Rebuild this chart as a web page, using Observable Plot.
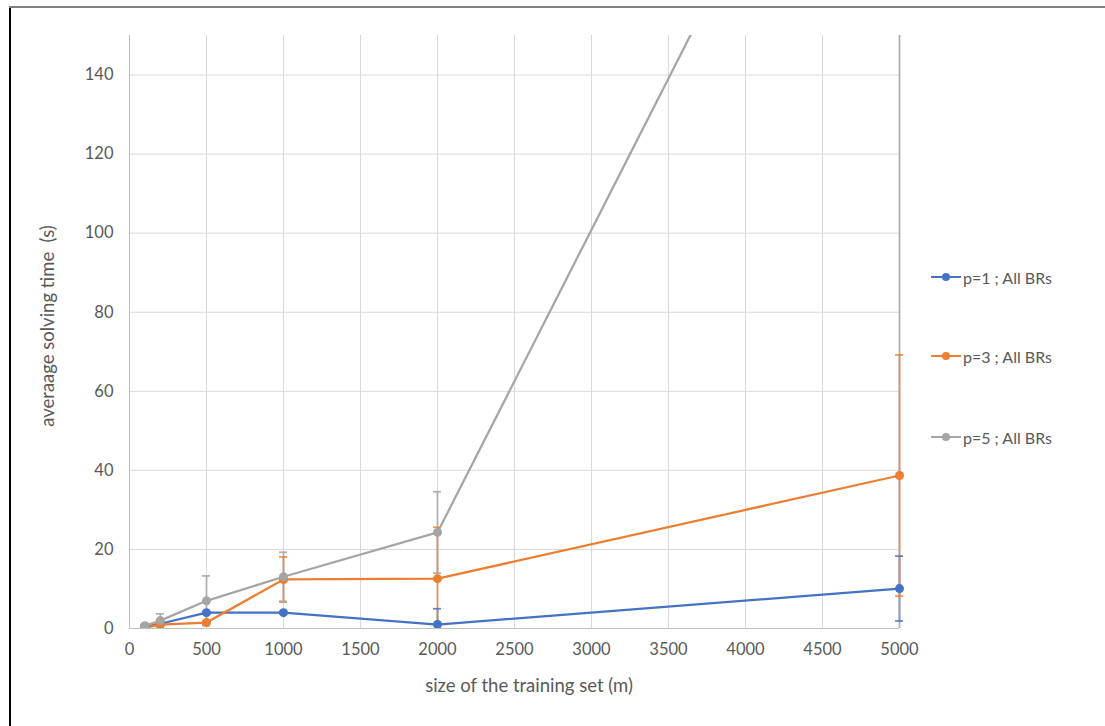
<!DOCTYPE html>
<html>
<head>
<meta charset="utf-8">
<script src="https://cdn.jsdelivr.net/npm/d3@7"></script>
<script src="https://cdn.jsdelivr.net/npm/@observablehq/plot@0.6"></script>
<style>
  html, body { margin: 0; padding: 0; background: #fff; }
  #wrap { position: relative; width: 1105px; height: 726px; overflow: hidden; }
  #frameL { position: absolute; left: 9px; top: 6px; width: 2px; height: 730px; background: #000; }
  #frameT { position: absolute; left: 9px; top: 6px; width: 1100px; height: 2px; background: #7f7f7f; }
  #legend { position: absolute; left: 931px; top: 0; font-family: Lato, sans-serif; font-size: 16px; color: #595959; }
  .item { position: absolute; left: 0; white-space: nowrap; display: flex; align-items: center; height: 20px; }
  .sw { position: relative; width: 30px; height: 20px; margin-right: 2px; }
  .sw .ln { position: absolute; left: 0; top: 9px; width: 30px; height: 2.25px; }
  .sw .dt { position: absolute; left: 11px; top: 6px; width: 8px; height: 8px; border-radius: 50%; }
</style>
</head>
<body>
<div id="wrap">
  <div id="chart"></div>
  <div id="frameL"></div>
  <div id="frameT"></div>
  <div id="legend"></div>
</div>
<script>
const sizes = [100, 200, 500, 1000, 2000, 5000];
const seriesNames = ["p=1 ; All BRs", "p=3 ; All BRs", "p=5 ; All BRs"];
const seriesColors = ["#4472C4", "#ED7D31", "#A5A5A5"];
const p1 = [0.5, 1.2, 4.0, 4.0, 1.0, 10.1];
const p3 = [0.2, 1.0, 1.5, 12.4, 12.6, 38.7];
const p5 = [0.7, 2.0, 7.0, 13.1, 24.3, 254];
const err1 = [0.3, 0.4, 0.3, 0.3, 4.0, 8.2];
const err3 = [0.2, 0.4, 0.4, 5.7, 13.0, 30.5];
const err5 = [0.3, 1.7, 6.3, 6.2, 10.3, 256];
const xTicks = [0, 500, 1000, 1500, 2000, 2500, 3000, 3500, 4000, 4500, 5000];
const yTicks = [0, 20, 40, 60, 80, 100, 120, 140];
const xLabel = "size of the training set (m)";
const yLabel = "averaage solving time  (s)";

const values = [p1, p3, p5];
const errs = [err1, err3, err5];
const rows = [];
seriesNames.forEach((s, k) => {
  sizes.forEach((m, i) => {
    rows.push({series: s, m, t: values[k][i], lo: values[k][i] - errs[k][i], hi: values[k][i] + errs[k][i]});
  });
});

const color = {domain: seriesNames, range: seriesColors};
const font = "Lato, sans-serif";
const ebar = {stroke: "series", strokeWidth: 1.75, strokeOpacity: 0.85, clip: true};

// frame extends a few px past x=5000 so the error bars there are not half-clipped
const W = 1105, ML = 129, MR = 199, PAD = 7;

const chart = Plot.plot({
  width: W,
  height: 726,
  marginLeft: ML,
  marginRight: MR,
  marginTop: 35,
  marginBottom: 98,
  style: {fontFamily: font, fontSize: "16.5px", color: "#595959", background: "transparent"},
  x: {domain: [0, 5000], range: [ML, W - MR - PAD]},
  y: {domain: [0, 150]},
  color,
  marks: [
    Plot.gridX(xTicks, {stroke: "#d9d9d9", strokeOpacity: 1}),
    Plot.gridY(yTicks, {stroke: "#d9d9d9", strokeOpacity: 1, insetRight: PAD}),
    Plot.ruleX([0], {stroke: "#bfbfbf"}),
    Plot.ruleY([0], {stroke: "#bfbfbf", insetRight: PAD}),
    Plot.axisY(yTicks, {tickSize: 0, tickPadding: 16, tickFormat: d => String(d), label: yLabel, labelArrow: "none", labelAnchor: "center", labelOffset: 89}),
    Plot.axisX(xTicks, {tickSize: 0, tickPadding: 15, tickFormat: d => String(d), label: xLabel, labelArrow: "none", labelAnchor: "center", labelOffset: 63}),
    Plot.ruleX(rows, {x: "m", y1: "lo", y2: "hi", ...ebar}),
    Plot.ruleY(rows, {x1: "m", x2: "m", y: "hi", insetLeft: -4, insetRight: -4, ...ebar}),
    Plot.ruleY(rows, {x1: "m", x2: "m", y: "lo", insetLeft: -4, insetRight: -4, ...ebar}),
    Plot.line(rows, {x: "m", y: "t", z: "series", stroke: "series", strokeWidth: 2.25, clip: true}),
    Plot.dot(rows, {x: "m", y: "t", fill: "series", r: 4.5, clip: true})
  ]
});
document.getElementById("chart").appendChild(chart);

chart.querySelectorAll("text").forEach(t => {
  const s = t.textContent;
  if (s.includes("averaage")) {
    t.textContent = s.replace(/[\u2190-\u2193]/g, "").trim();
    t.style.fontSize = "18.5px";
    t.setAttribute("dx", "6");
  } else if (s.includes("training")) {
    t.textContent = s.replace(/[\u2190-\u2193]/g, "").trim();
    t.style.fontSize = "18.5px";
    t.setAttribute("dx", "11");
  }
});

const legend = document.getElementById("legend");
const legendTops = [267, 346, 427];
seriesNames.forEach((s, k) => {
  const it = document.createElement("div");
  it.className = "item";
  it.style.top = legendTops[k] + "px";
  it.innerHTML = `<div class="sw"><div class="ln" style="background:${seriesColors[k]}"></div><div class="dt" style="background:${seriesColors[k]}"></div></div><span>${s}</span>`;
  legend.appendChild(it);
});
</script>
</body>
</html>
